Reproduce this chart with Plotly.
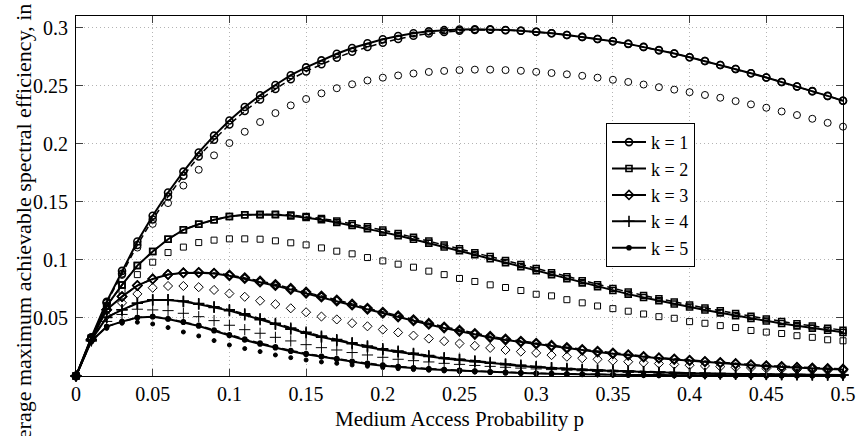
import plotly.graph_objects as go

# Medium access probability (x axis)
p = [0.00, 0.01, 0.02, 0.03, 0.04, 0.05, 0.06, 0.07, 0.08, 0.09,
     0.10, 0.11, 0.12, 0.13, 0.14, 0.15, 0.16, 0.17, 0.18, 0.19,
     0.20, 0.21, 0.22, 0.23, 0.24, 0.25, 0.26, 0.27, 0.28, 0.29,
     0.30, 0.31, 0.32, 0.33, 0.34, 0.35, 0.36, 0.37, 0.38, 0.39,
     0.40, 0.41, 0.42, 0.43, 0.44, 0.45, 0.46, 0.47, 0.48, 0.49,
     0.50]

# k = 1
k1_solid = [0, 0.0333, 0.0640, 0.0905, 0.1158,
            0.1380, 0.1580, 0.1760, 0.1925, 0.2070,
            0.2200, 0.2316, 0.2417, 0.2506, 0.2590,
            0.2658, 0.2718, 0.2775, 0.2825, 0.2865,
            0.2900, 0.2928, 0.2952, 0.2968, 0.2978,
            0.2984, 0.2986, 0.2985, 0.2980, 0.2973,
            0.2964, 0.2952, 0.2937, 0.2920, 0.2902,
            0.2882, 0.2860, 0.2834, 0.2806, 0.2777,
            0.2745, 0.2712, 0.2678, 0.2643, 0.2607,
            0.2570, 0.2532, 0.2493, 0.2453, 0.2412,
            0.2370]
k1_dashed = [0, 0.0330, 0.0630, 0.0880, 0.1128,
             0.1348, 0.1545, 0.1725, 0.1890, 0.2035,
             0.2165, 0.2281, 0.2382, 0.2471, 0.2555,
             0.2623, 0.2684, 0.2741, 0.2792, 0.2834,
             0.2870, 0.2902, 0.2929, 0.2949, 0.2963,
             0.2973, 0.2979, 0.2981, 0.2978, 0.2972,
             0.2964, 0.2952, 0.2937, 0.2920, 0.2902,
             0.2882, 0.2860, 0.2834, 0.2806, 0.2777,
             0.2745, 0.2712, 0.2678, 0.2643, 0.2607,
             0.2570, 0.2532, 0.2493, 0.2453, 0.2412,
             0.2370]
k1_open = [0, 0.0328, 0.0630, 0.0870, 0.1106,
           0.1310, 0.1489, 0.1640, 0.1776, 0.1900,
           0.2006, 0.2103, 0.2187, 0.2264, 0.2330,
           0.2385, 0.2434, 0.2478, 0.2512, 0.2545,
           0.2569, 0.2588, 0.2605, 0.2618, 0.2627,
           0.2634, 0.2638, 0.2638, 0.2634, 0.2628,
           0.2619, 0.2609, 0.2598, 0.2585, 0.2569,
           0.2551, 0.2532, 0.2510, 0.2487, 0.2466,
           0.2444, 0.2420, 0.2396, 0.2367, 0.2339,
           0.2310, 0.2278, 0.2247, 0.2215, 0.2180,
           0.2147]

# k = 2
k2_solid = [0, 0.0325, 0.0603, 0.0784, 0.0951,
            0.1072, 0.1178, 0.1259, 0.1307, 0.1345,
            0.1373, 0.1388, 0.1390, 0.1388, 0.1379,
            0.1365, 0.1345, 0.1322, 0.1296, 0.1268,
            0.1239, 0.1209, 0.1177, 0.1144, 0.1111,
            0.1078, 0.1044, 0.1010, 0.0976, 0.0942,
            0.0907, 0.0872, 0.0837, 0.0802, 0.0768,
            0.0736, 0.0705, 0.0676, 0.0648, 0.0620,
            0.0594, 0.0568, 0.0544, 0.0520, 0.0496,
            0.0473, 0.0452, 0.0432, 0.0412, 0.0394,
            0.0376]
k2_dashed = [0, 0.0325, 0.0603, 0.0784, 0.0951,
             0.1072, 0.1178, 0.1259, 0.1307, 0.1345,
             0.1373, 0.1388, 0.1391, 0.1392, 0.1386,
             0.1374, 0.1356, 0.1335, 0.1311, 0.1285,
             0.1257, 0.1227, 0.1195, 0.1162, 0.1129,
             0.1096, 0.1062, 0.1028, 0.0994, 0.0960,
             0.0925, 0.0890, 0.0855, 0.0820, 0.0786,
             0.0754, 0.0723, 0.0694, 0.0666, 0.0638,
             0.0612, 0.0586, 0.0562, 0.0538, 0.0514,
             0.0491, 0.0470, 0.0450, 0.0430, 0.0412,
             0.0394]
k2_open = [0, 0.0320, 0.0580, 0.0735, 0.0873,
           0.0980, 0.1063, 0.1110, 0.1149, 0.1170,
           0.1181, 0.1181, 0.1178, 0.1164, 0.1147,
           0.1129, 0.1103, 0.1075, 0.1052, 0.1020,
           0.0991, 0.0963, 0.0937, 0.0903, 0.0873,
           0.0840, 0.0814, 0.0785, 0.0762, 0.0736,
           0.0704, 0.0690, 0.0657, 0.0630, 0.0603,
           0.0580, 0.0558, 0.0534, 0.0511, 0.0497,
           0.0468, 0.0454, 0.0434, 0.0417, 0.0392,
           0.0378, 0.0366, 0.0347, 0.0333, 0.0312,
           0.0303]

# k = 3
k3_solid = [0, 0.0316, 0.0570, 0.0684, 0.0779,
            0.0836, 0.0874, 0.0888, 0.0890, 0.0882,
            0.0863, 0.0838, 0.0808, 0.0778, 0.0745,
            0.0713, 0.0679, 0.0645, 0.0610, 0.0574,
            0.0540, 0.0508, 0.0475, 0.0444, 0.0413,
            0.0385, 0.0357, 0.0332, 0.0310, 0.0292,
            0.0275, 0.0256, 0.0238, 0.0222, 0.0207,
            0.0192, 0.0178, 0.0163, 0.0152, 0.0142,
            0.0131, 0.0122, 0.0113, 0.0103, 0.0093,
            0.0085, 0.0078, 0.0071, 0.0065, 0.0060,
            0.0057]
k3_dashed = [0, 0.0316, 0.0570, 0.0684, 0.0779,
             0.0836, 0.0874, 0.0890, 0.0893, 0.0887,
             0.0871, 0.0848, 0.0819, 0.0789, 0.0756,
             0.0724, 0.0690, 0.0656, 0.0621, 0.0585,
             0.0551, 0.0519, 0.0486, 0.0455, 0.0424,
             0.0396, 0.0368, 0.0343, 0.0320, 0.0301,
             0.0284, 0.0265, 0.0247, 0.0230, 0.0215,
             0.0200, 0.0185, 0.0170, 0.0158, 0.0148,
             0.0137, 0.0127, 0.0118, 0.0108, 0.0098,
             0.0090, 0.0083, 0.0076, 0.0070, 0.0065,
             0.0061]
k3_open = [0, 0.0310, 0.0520, 0.0630, 0.0707,
           0.0760, 0.0775, 0.0775, 0.0765, 0.0741,
           0.0710, 0.0682, 0.0648, 0.0618, 0.0583,
           0.0549, 0.0512, 0.0487, 0.0455, 0.0428,
           0.0400, 0.0375, 0.0348, 0.0322, 0.0300,
           0.0280, 0.0260, 0.0242, 0.0224, 0.0210,
           0.0199, 0.0180, 0.0166, 0.0153, 0.0144,
           0.0132, 0.0123, 0.0115, 0.0107, 0.0100,
           0.0093, 0.0087, 0.0081, 0.0075, 0.0070,
           0.0065, 0.0060, 0.0056, 0.0052, 0.0048,
           0.0045]

# k = 4
k4_solid = [0, 0.0310, 0.0505, 0.0570, 0.0626,
            0.0655, 0.0655, 0.0641, 0.0618, 0.0590,
            0.0563, 0.0526, 0.0485, 0.0445, 0.0404,
            0.0368, 0.0335, 0.0305, 0.0278, 0.0250,
            0.0226, 0.0207, 0.0188, 0.0168, 0.0151,
            0.0138, 0.0124, 0.0110, 0.0098, 0.0087,
            0.0076, 0.0067, 0.0060, 0.0054, 0.0048,
            0.0043, 0.0038, 0.0034, 0.0030, 0.0027,
            0.0024, 0.0021, 0.0019, 0.0017, 0.0015,
            0.0013, 0.0012, 0.0011, 0.0010, 0.0009,
            0.0008]
k4_dashed = [0, 0.0310, 0.0505, 0.0570, 0.0626,
             0.0656, 0.0657, 0.0645, 0.0624, 0.0597,
             0.0571, 0.0535, 0.0494, 0.0454, 0.0413,
             0.0377, 0.0344, 0.0314, 0.0287, 0.0259,
             0.0235, 0.0215, 0.0196, 0.0176, 0.0158,
             0.0145, 0.0131, 0.0117, 0.0104, 0.0093,
             0.0082, 0.0072, 0.0065, 0.0058, 0.0052,
             0.0047, 0.0042, 0.0037, 0.0033, 0.0030,
             0.0026, 0.0023, 0.0021, 0.0019, 0.0017,
             0.0015, 0.0013, 0.0012, 0.0011, 0.0010,
             0.0009]
k4_open = [0, 0.0300, 0.0470, 0.0530, 0.0575,
           0.0569, 0.0563, 0.0540, 0.0511, 0.0477,
           0.0437, 0.0399, 0.0368, 0.0333, 0.0302,
           0.0270, 0.0244, 0.0224, 0.0202, 0.0181,
           0.0161, 0.0144, 0.0132, 0.0121, 0.0109,
           0.0100, 0.0091, 0.0083, 0.0075, 0.0068,
           0.0061, 0.0055, 0.0050, 0.0045, 0.0040,
           0.0036, 0.0032, 0.0029, 0.0026, 0.0023,
           0.0021, 0.0019, 0.0017, 0.0015, 0.0013,
           0.0012, 0.0011, 0.0010, 0.0009, 0.0008,
           0.0007]

# k = 5
k5_solid = [0, 0.0300, 0.0425, 0.0468, 0.0503,
            0.0511, 0.0491, 0.0463, 0.0430, 0.0390,
            0.0348, 0.0310, 0.0276, 0.0243, 0.0213,
            0.0187, 0.0165, 0.0144, 0.0122, 0.0104,
            0.0089, 0.0077, 0.0067, 0.0059, 0.0052,
            0.0046, 0.0040, 0.0034, 0.0029, 0.0025,
            0.0022, 0.0019, 0.0016, 0.0014, 0.0012,
            0.0010, 0.0009, 0.0008, 0.0007, 0.0006,
            0.0005, 0.0004, 0.0004, 0.0003, 0.0003,
            0.0003, 0.0002, 0.0002, 0.0002, 0.0002,
            0.0001]
k5_dashed = [0, 0.0300, 0.0425, 0.0468, 0.0503,
             0.0512, 0.0494, 0.0468, 0.0436, 0.0397,
             0.0356, 0.0318, 0.0284, 0.0251, 0.0220,
             0.0194, 0.0171, 0.0150, 0.0128, 0.0110,
             0.0095, 0.0082, 0.0072, 0.0063, 0.0056,
             0.0049, 0.0043, 0.0037, 0.0032, 0.0028,
             0.0024, 0.0021, 0.0018, 0.0015, 0.0013,
             0.0011, 0.0010, 0.0009, 0.0008, 0.0007,
             0.0006, 0.0005, 0.0004, 0.0004, 0.0003,
             0.0003, 0.0003, 0.0002, 0.0002, 0.0002,
             0.0002]
k5_open = [0, 0.0290, 0.0410, 0.0454, 0.0463,
           0.0448, 0.0417, 0.0379, 0.0345, 0.0305,
           0.0267, 0.0236, 0.0210, 0.0181, 0.0158,
           0.0138, 0.0121, 0.0109, 0.0095, 0.0084,
           0.0072, 0.0063, 0.0055, 0.0049, 0.0043,
           0.0038, 0.0033, 0.0029, 0.0025, 0.0022,
           0.0019, 0.0017, 0.0015, 0.0013, 0.0011,
           0.0010, 0.0009, 0.0008, 0.0007, 0.0006,
           0.0005, 0.0004, 0.0004, 0.0003, 0.0003,
           0.0003, 0.0002, 0.0002, 0.0002, 0.0002,
           0.0001]

legend_names = ["k = 1", "k = 2", "k = 3", "k = 4", "k = 5"]
x_tick_vals = [0, 0.05, 0.1, 0.15, 0.2, 0.25, 0.3, 0.35, 0.4, 0.45, 0.5]
x_tick_text = ["0", "0.05", "0.1", "0.15", "0.2", "0.25", "0.3", "0.35", "0.4", "0.45", "0.5"]
y_tick_vals = [0.05, 0.1, 0.15, 0.2, 0.25, 0.3]
y_tick_text = ["0.05", "0.1", "0.15", "0.2", "0.25", "0.3"]

FONT = "Liberation Serif"
BLACK = "black"

solid_sets = [k1_solid, k2_solid, k3_solid, k4_solid, k5_solid]
dashed_sets = [k1_dashed, k2_dashed, k3_dashed, k4_dashed, k5_dashed]
open_sets = [k1_open, k2_open, k3_open, k4_open, k5_open]

# marker style per k: (symbol, size)
styles = [
    ("circle-open", 7),
    ("square-open", 6),
    ("diamond-open", 7),
    ("cross-thin-open", 8),
    ("circle", 4),
]

fig = go.Figure()

# unconnected markers
for ys, (sym, sz) in zip(open_sets, styles):
    fig.add_trace(go.Scatter(
        x=p, y=ys, mode="markers", showlegend=False,
        marker=dict(symbol=sym, size=sz, color=BLACK,
                    line=dict(color=BLACK, width=1)),
        cliponaxis=False,
    ))

# dashed curves
for ys, (sym, sz) in zip(dashed_sets, styles):
    fig.add_trace(go.Scatter(
        x=p, y=ys, mode="lines+markers", showlegend=False,
        line=dict(color=BLACK, width=1.5, dash="6px,4px"),
        marker=dict(symbol=sym, size=sz, color=BLACK,
                    line=dict(color=BLACK, width=1.5)),
        cliponaxis=False,
    ))

# solid curves (legend entries)
for ys, (sym, sz), name in zip(solid_sets, styles, legend_names):
    fig.add_trace(go.Scatter(
        x=p, y=ys, mode="lines+markers", name=name,
        line=dict(color=BLACK, width=2),
        marker=dict(symbol=sym, size=sz, color=BLACK,
                    line=dict(color=BLACK, width=1.6)),
        cliponaxis=False,
    ))

axis_common = dict(
    showline=True, linecolor=BLACK, linewidth=1, mirror="allticks",
    ticks="inside", ticklen=7, tickwidth=1, tickcolor="#404040",
    showgrid=True, gridcolor="#b4b4b4", gridwidth=1, griddash="1px,3px",
    zeroline=False,
    tickfont=dict(family=FONT, size=20, color=BLACK),
)

fig.update_xaxes(range=[0, 0.5], tickvals=x_tick_vals, ticktext=x_tick_text,
                 ticklabelstandoff=0, **axis_common)
fig.update_yaxes(range=[0, 0.31], tickvals=y_tick_vals, ticktext=y_tick_text,
                 ticklabelstandoff=3, **axis_common)

fig.add_annotation(
    text="Medium Access Probability p", xref="paper", yref="paper",
    x=0.5, y=-0.12, xanchor="center", yanchor="middle", showarrow=False,
    font=dict(family=FONT, size=21, color=BLACK),
)
fig.add_annotation(
    text="Average maximum achievable spectral efficiency, in bps/Hz",
    xref="paper", yref="paper", x=-0.068, y=0.49, textangle=-90,
    xanchor="center", yanchor="middle", showarrow=False,
    font=dict(family=FONT, size=22, color=BLACK),
)

fig.update_layout(
    width=857, height=436,
    margin=dict(l=76, r=14, t=16, b=60, autoexpand=False),
    paper_bgcolor="white", plot_bgcolor="white",
    font=dict(family=FONT, size=21, color=BLACK),
    legend=dict(
        x=0.691, y=0.703, xanchor="left", yanchor="top",
        bgcolor="white", bordercolor=BLACK, borderwidth=1,
        font=dict(family=FONT, size=18, color=BLACK),
        itemwidth=34, tracegroupgap=0,
    ),
)

fig.write_html("out.html")
